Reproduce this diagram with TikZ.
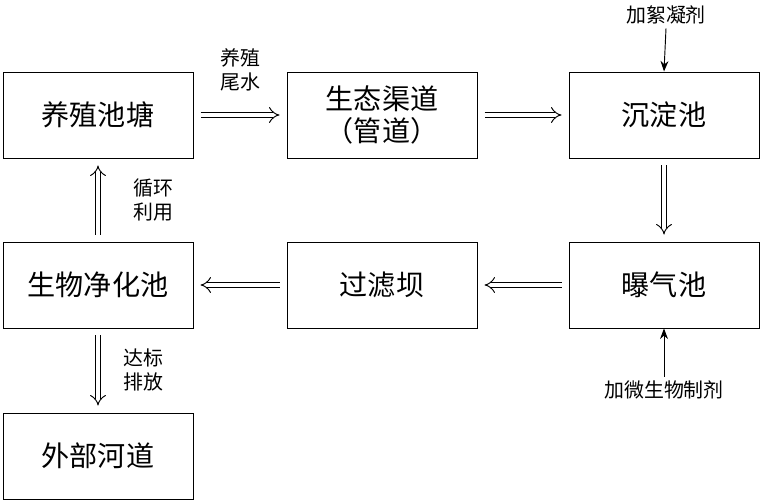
\documentclass[tikz,border=0pt]{standalone}
\usepackage{fontspec}
\newfontfamily\cjk{Noto Sans CJK SC}
\usetikzlibrary{positioning,arrows.meta}

\tikzset{
  box/.style={draw,thick,minimum width=5.7cm,minimum height=2.58cm,
    font=\cjk\fontsize{24}{28}\selectfont,align=center},
  flow/.style={double,thick,double distance=4pt,-{Implies[length=8pt]}},
  note/.style={font=\cjk\fontsize{17}{21}\selectfont,align=center},
  feed/.style={thick,-{Stealth[length=9pt]}}
}

\begin{document}
\begin{tikzpicture}
\useasboundingbox (0,0) rectangle (22.8,15);
% boxes
\node[box] (pond) at (2.94,11.55) {养殖池塘};
\node[box] (chan) at (11.46,11.55) {生态渠道\\（管道）};
\node[box] (settle) at (19.92,11.55) {沉淀池};
\node[box] (bio) at (2.94,6.45) {生物净化池};
\node[box] (filter) at (11.46,6.45) {过滤坝};
\node[box] (aer) at (19.92,6.45) {曝气池};
\node[box] (river) at (2.94,1.32) {外部河道};
% main flow
\draw[flow] ([xshift=6pt]pond.east) -- ([xshift=-6pt]chan.west);
\draw[flow] ([xshift=6pt]chan.east) -- ([xshift=-6pt]settle.west);
\draw[flow] ([yshift=-6pt]settle.south) -- ([yshift=6pt]aer.north);
\draw[flow] ([xshift=-6pt]aer.west) -- ([xshift=6pt]filter.east);
\draw[flow] ([xshift=-6pt]filter.west) -- ([xshift=6pt]bio.east);
\draw[flow] ([yshift=6pt]bio.north) -- ([yshift=-6pt]pond.south);
\draw[flow] ([yshift=-6pt]bio.south) -- ([yshift=6pt]river.north);
% labels
\node[note] (tail) at (7.2,12.9) {养殖\\尾水};
\node[note] (loop) at (4.6,9.0) {循环\\利用};
\node[note] (disch) at (4.3,3.9) {达标\\排放};
\node[note] (floc) at (19.98,14.55) {加絮凝剂};
\node[note] (micro) at (19.92,3.3) {加微生物制剂};
\draw[feed] (floc.south) -- (settle.north);
\draw[feed] (micro.north) -- (aer.south);
\end{tikzpicture}
\end{document}
